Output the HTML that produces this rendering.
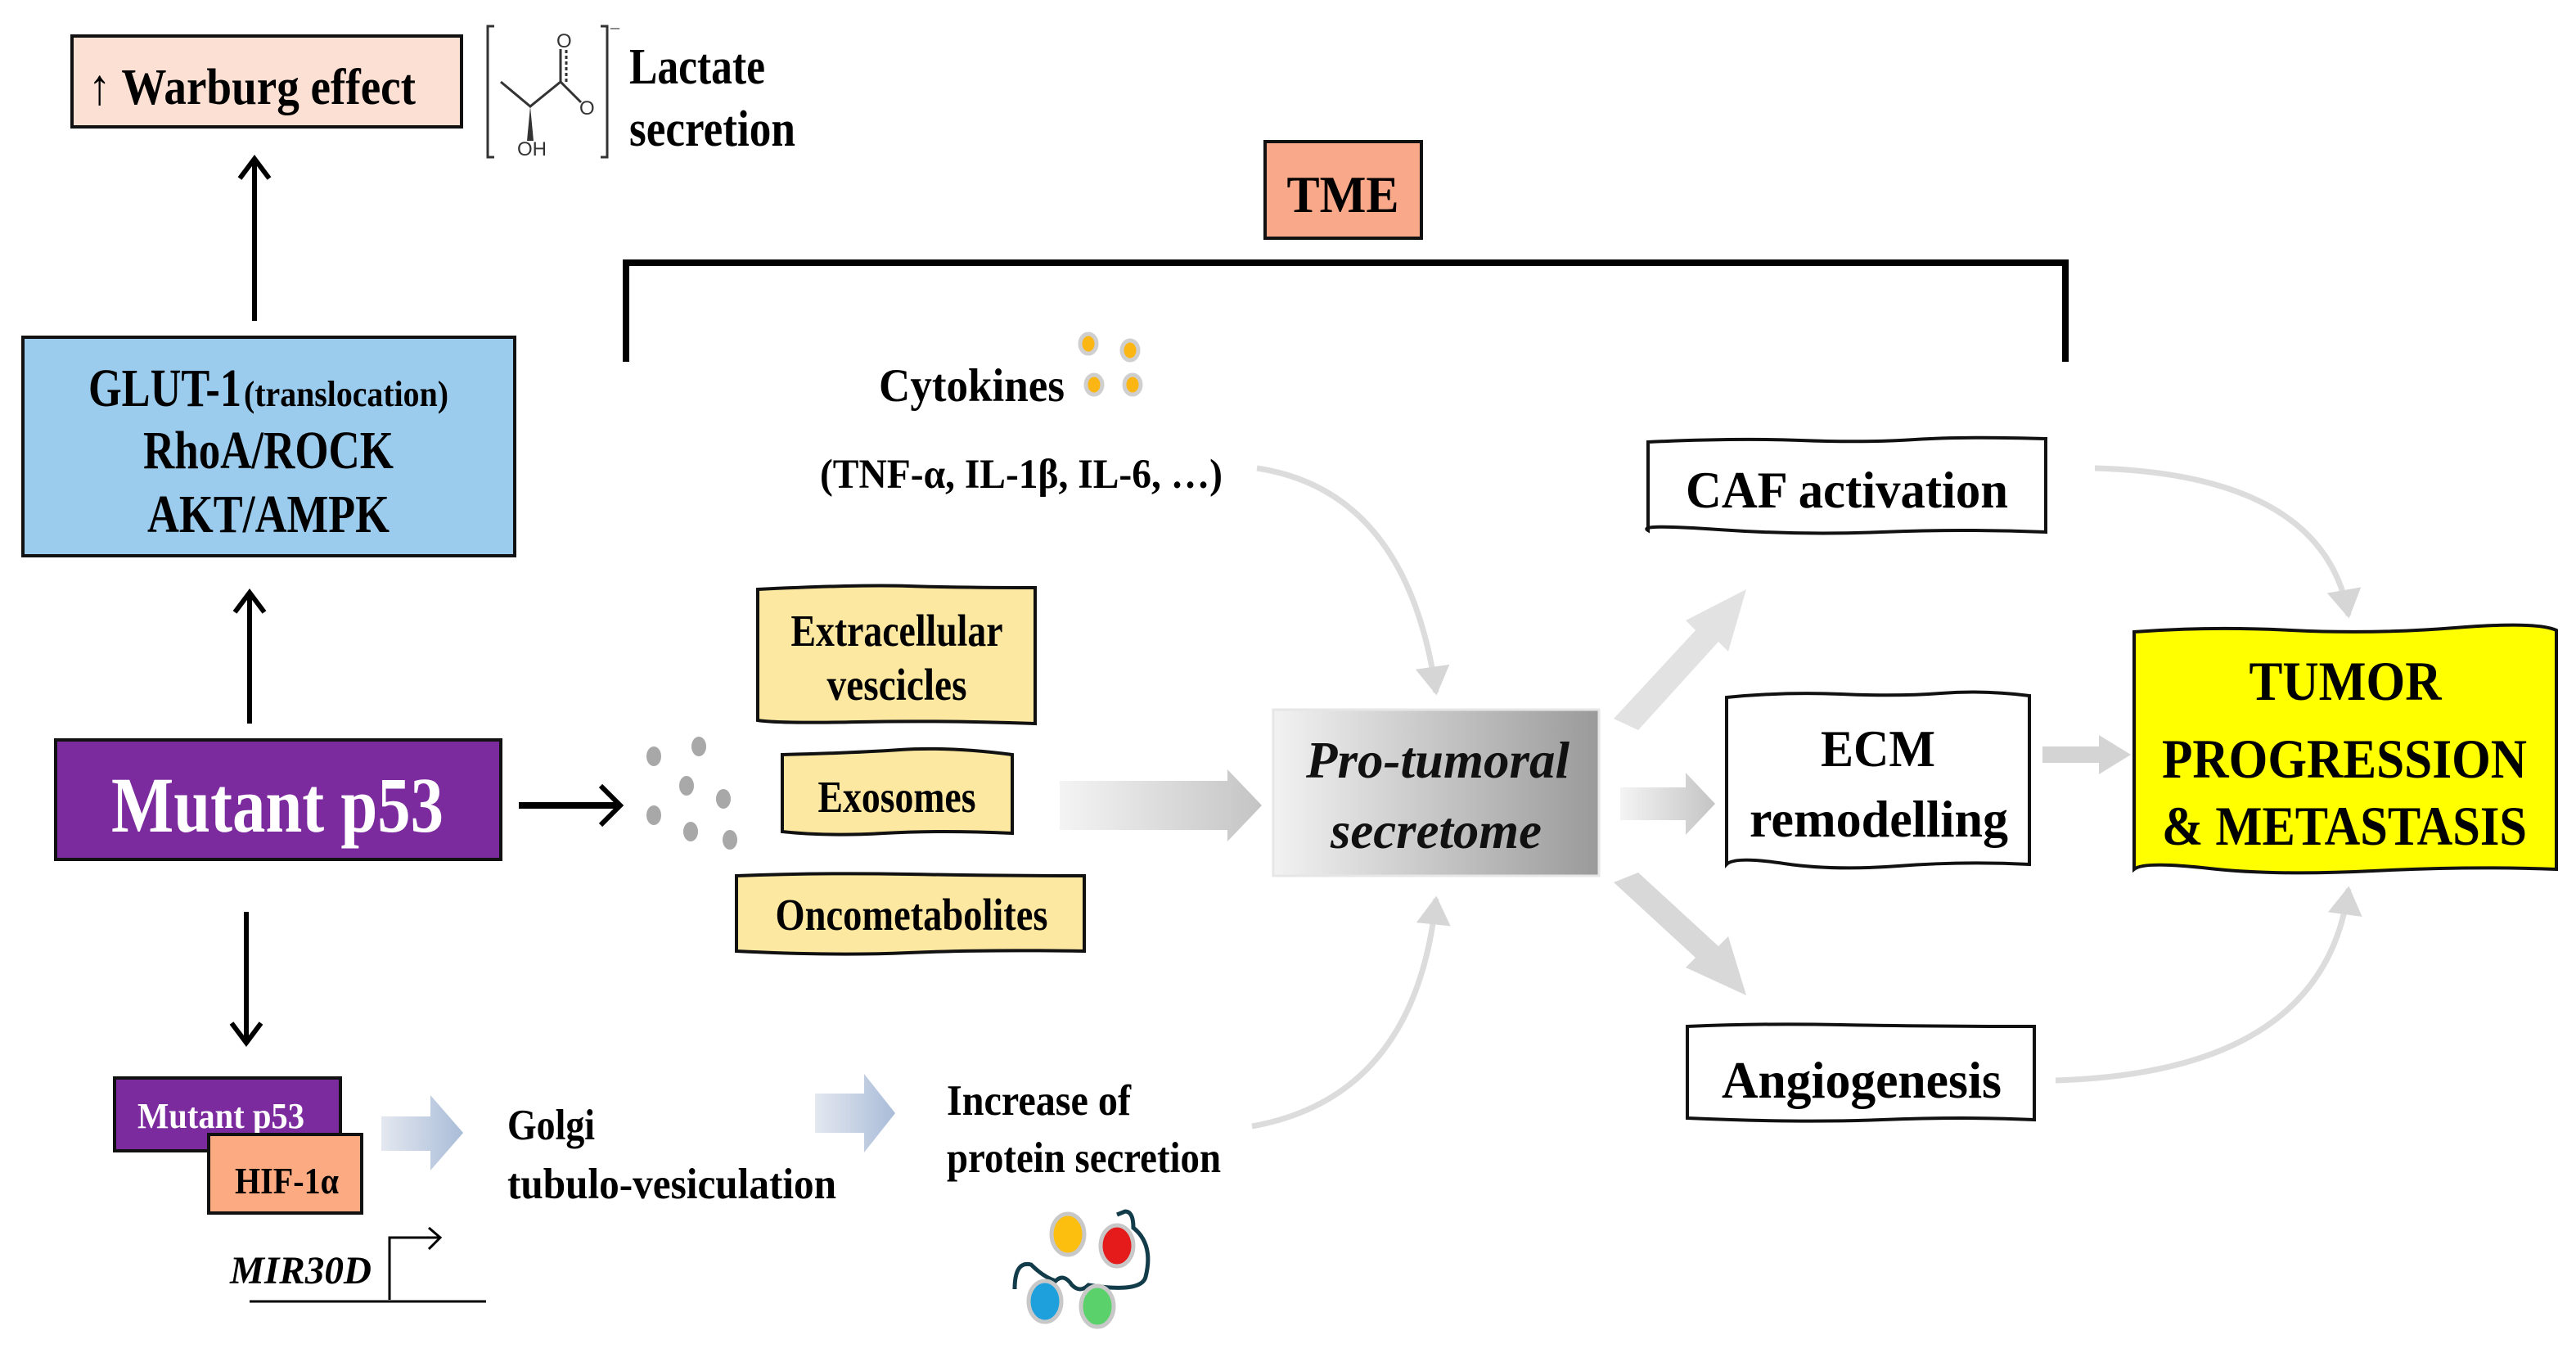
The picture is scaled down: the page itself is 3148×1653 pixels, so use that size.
<!DOCTYPE html>
<html><head><meta charset="utf-8"><style>html,body{margin:0;padding:0;background:#fff}svg{display:block}</style></head>
<body>
<svg width="3148" height="1653" viewBox="0 0 3148 1653" xmlns="http://www.w3.org/2000/svg" font-family="'Liberation Serif', serif" font-weight="bold">
<defs>
<linearGradient id="pg" x1="0" x2="1" y1="0" y2="0"><stop offset="0" stop-color="#f2f2f2"/><stop offset="1" stop-color="#9a9a9a"/></linearGradient>
<linearGradient id="ga" x1="0" x2="1"><stop offset="0" stop-color="#f4f4f4"/><stop offset="1" stop-color="#c4c4c4"/></linearGradient>
<linearGradient id="ba" x1="0" x2="1"><stop offset="0" stop-color="#e4e8f0"/><stop offset="1" stop-color="#a9bcd8"/></linearGradient>
<marker id="gh" markerWidth="6" markerHeight="6" refX="4.5" refY="3" orient="auto" markerUnits="strokeWidth"><path d="M0,0 L5,3 L0,6 Z" fill="#d6d6d6"/></marker>
</defs>

<rect x="88" y="44" width="476" height="111" fill="#fce0d4" stroke="#111" stroke-width="4"/>
<text x="108" y="127" font-size="62" textLength="400" lengthAdjust="spacingAndGlyphs">↑ Warburg effect</text>
<g stroke="#333" stroke-width="3" fill="none">
<path d="M604,32 h-8 v160 h8"/><path d="M734,32 h8 v160 h-8"/>
<path d="M612,100 L648,130 L685,100 L710,125"/>
<path d="M685,100 V60"/><path d="M692,100 V60" stroke-dasharray="4 3"/>
</g>
<path d="M648,130 L644,172 L652,172 Z" fill="#333"/>
<text x="680" y="58" font-size="24" font-weight="normal" font-family="'Liberation Sans',sans-serif" fill="#333">O</text>
<text x="708" y="140" font-size="24" font-weight="normal" font-family="'Liberation Sans',sans-serif" fill="#333">O</text>
<text x="632" y="190" font-size="24" font-weight="normal" font-family="'Liberation Sans',sans-serif" fill="#333">OH</text>
<text x="746" y="40" font-size="22" font-weight="normal" fill="#333">–</text>
<text x="769" y="102" font-size="62" textLength="166" lengthAdjust="spacingAndGlyphs">Lactate</text>
<text x="769" y="178" font-size="62" textLength="203" lengthAdjust="spacingAndGlyphs">secretion</text>

<g stroke="#000" stroke-width="6" fill="none">
<line x1="311" y1="392" x2="311" y2="196"/><path d="M293,218 L311,194 L329,218"/>
<line x1="305" y1="884" x2="305" y2="726"/><path d="M287,748 L305,724 L323,748"/>
<line x1="301" y1="1114" x2="301" y2="1272"/><path d="M283,1250 L301,1274 L319,1250"/>
<line x1="634" y1="984" x2="754" y2="984" stroke-width="8"/><path d="M734,960 L758,984 L734,1008" stroke-width="6"/>
</g>

<rect x="28" y="412" width="601" height="267" fill="#9bcbed" stroke="#111" stroke-width="4"/>
<text x="108" y="496" font-size="66" textLength="187" lengthAdjust="spacingAndGlyphs">GLUT-1</text>
<text x="298" y="496" font-size="44" textLength="250" lengthAdjust="spacingAndGlyphs">(translocation)</text>
<text x="328" y="572" font-size="66" text-anchor="middle" textLength="306" lengthAdjust="spacingAndGlyphs">RhoA/ROCK</text>
<text x="328" y="650" font-size="66" text-anchor="middle" textLength="296" lengthAdjust="spacingAndGlyphs">AKT/AMPK</text>

<rect x="68" y="904" width="544" height="146" fill="#7b2b9e" stroke="#111" stroke-width="4"/>
<text x="136" y="1016" font-size="96" fill="#fff" textLength="406" lengthAdjust="spacingAndGlyphs">Mutant p53</text>

<g fill="#a8a8a8">
<ellipse cx="799" cy="924" rx="9" ry="12"/><ellipse cx="854" cy="912" rx="9" ry="12"/><ellipse cx="839" cy="960" rx="9" ry="12"/><ellipse cx="884" cy="976" rx="9" ry="12"/><ellipse cx="799" cy="996" rx="9" ry="12"/><ellipse cx="844" cy="1016" rx="9" ry="12"/><ellipse cx="892" cy="1026" rx="9" ry="12"/>
</g>

<g fill="#fde8a2" stroke="#111" stroke-width="4">
<path d="M926,720 Q1050,714 1110,716 T1265,718 V884 Q1150,880 1050,882 T926,880 Z"/>
<path d="M956,922 Q1040,920 1100,916 T1237,922 V1018 Q1150,1014 1080,1018 T956,1016 Z"/>
<path d="M900,1070 Q1000,1066 1110,1068 T1325,1070 V1162 Q1200,1160 1110,1164 T900,1162 Z"/>
</g>
<text x="1096" y="789" font-size="55" text-anchor="middle" textLength="259" lengthAdjust="spacingAndGlyphs">Extracellular</text>
<text x="1096" y="855" font-size="55" text-anchor="middle" textLength="171" lengthAdjust="spacingAndGlyphs">vescicles</text>
<text x="1096" y="992" font-size="55" text-anchor="middle" textLength="193" lengthAdjust="spacingAndGlyphs">Exosomes</text>
<text x="1114" y="1136" font-size="55" text-anchor="middle" textLength="333" lengthAdjust="spacingAndGlyphs">Oncometabolites</text>

<path d="M1295,954 H1500 V940 L1542,984 L1500,1028 V1014 H1295 Z" fill="url(#ga)"/>

<rect x="1546" y="173" width="191" height="118" fill="#f9a98a" stroke="#111" stroke-width="4"/>
<text x="1641" y="259" font-size="64" text-anchor="middle" textLength="137" lengthAdjust="spacingAndGlyphs">TME</text>
<path d="M765,442 V321 H2524 V442" fill="none" stroke="#000" stroke-width="8"/>

<text x="1074" y="490" font-size="57" textLength="227" lengthAdjust="spacingAndGlyphs">Cytokines</text>
<g fill="#fbb614" stroke="#cfcfcf" stroke-width="5">
<ellipse cx="1330" cy="420" rx="10" ry="12"/><ellipse cx="1381" cy="428" rx="10" ry="12"/><ellipse cx="1337" cy="470" rx="10" ry="12"/><ellipse cx="1384" cy="470" rx="10" ry="12"/>
</g>
<text x="1002" y="596" font-size="51" textLength="492" lengthAdjust="spacingAndGlyphs">(TNF-α, IL-1β, IL-6, …)</text>

<g fill="none" stroke="#dcdcdc" stroke-width="7">
<path d="M1536,572 Q1720,600 1755,846" marker-end="url(#gh)"/>
<path d="M1530,1376 Q1730,1340 1755,1098" marker-end="url(#gh)"/>
<path d="M2560,572 Q2840,580 2870,752" marker-end="url(#gh)"/>
<path d="M2512,1320 Q2840,1310 2870,1086" marker-end="url(#gh)"/>
</g>

<rect x="1556" y="867" width="398" height="203" fill="url(#pg)" stroke="#e6e6e6" stroke-width="3"/>
<text x="1757" y="950" font-size="64" font-style="italic" text-anchor="middle" textLength="322" lengthAdjust="spacingAndGlyphs" fill="#111">Pro-tumoral</text>
<text x="1755" y="1036" font-size="64" font-style="italic" text-anchor="middle" textLength="258" lengthAdjust="spacingAndGlyphs" fill="#111">secretome</text>

<g fill="url(#ga)">
<path d="M1972,878 L2072,770 L2060,758 L2134,720 L2112,796 L2100,784 L2002,892 Z" fill="#e2e2e2"/>
<path d="M1980,962 H2060 V944 L2096,982 L2060,1020 V1002 H1980 Z"/>
<path d="M1972,1078 L2072,1170 L2060,1182 L2134,1216 L2112,1144 L2100,1156 L2002,1066 Z" fill="#d8d8d8"/>
<path d="M2496,912 H2565 V898 L2604,922 L2565,946 V932 H2496 Z" fill="#d4d4d4"/>
</g>

<g fill="#fff" stroke="#111" stroke-width="4">
<path d="M2014,540 Q2120,535 2200,538 T2340,537 T2500,536 V650 Q2400,646 2300,650 T2100,647 T2014,648 Z"/>
<path d="M2110,852 Q2180,845 2250,848 T2372,847 T2480,850 V1056 Q2400,1052 2320,1058 T2180,1055 T2110,1056 Z"/>
<path d="M2062,1254 Q2150,1250 2250,1252 T2486,1254 V1368 Q2400,1364 2300,1368 T2062,1366 Z"/>
</g>
<text x="2257" y="620" font-size="64" text-anchor="middle" textLength="394" lengthAdjust="spacingAndGlyphs">CAF activation</text>
<text x="2295" y="936" font-size="64" text-anchor="middle" textLength="140" lengthAdjust="spacingAndGlyphs">ECM</text>
<text x="2296" y="1022" font-size="64" text-anchor="middle" textLength="316" lengthAdjust="spacingAndGlyphs">remodelling</text>
<text x="2275" y="1341" font-size="64" text-anchor="middle" textLength="342" lengthAdjust="spacingAndGlyphs">Angiogenesis</text>

<path d="M2608,772 Q2700,765 2800,770 T3000,767 T3124,770 V1062 Q3020,1058 2900,1064 T2700,1061 T2608,1062 Z" fill="#ffff00" stroke="#111" stroke-width="4"/>
<text x="2866" y="855" font-size="68" text-anchor="middle" textLength="235" lengthAdjust="spacingAndGlyphs">TUMOR</text>
<text x="2865" y="950" font-size="68" text-anchor="middle" textLength="446" lengthAdjust="spacingAndGlyphs">PROGRESSION</text>
<text x="2865" y="1032" font-size="68" text-anchor="middle" textLength="446" lengthAdjust="spacingAndGlyphs">&amp; METASTASIS</text>

<rect x="140" y="1317" width="276" height="89" fill="#7b2b9e" stroke="#111" stroke-width="4"/>
<text x="168" y="1378" font-size="44" fill="#fff" textLength="204" lengthAdjust="spacingAndGlyphs">Mutant p53</text>
<rect x="255" y="1386" width="187" height="96" fill="#fbaa82" stroke="#111" stroke-width="4"/>
<text x="287" y="1458" font-size="46" textLength="127" lengthAdjust="spacingAndGlyphs">HIF-1α</text>
<text x="281" y="1568" font-size="48" font-style="italic" textLength="173" lengthAdjust="spacingAndGlyphs">MIR30D</text>
<g stroke="#000" stroke-width="3" fill="none">
<line x1="305" y1="1590" x2="594" y2="1590"/>
<path d="M476,1588 V1512 H536"/><path d="M524,1500 L538,1512 L524,1526"/>
</g>
<path d="M466,1364 H526 V1338 L566,1384 L526,1430 V1406 H466 Z" fill="url(#ba)"/>
<path d="M996,1336 H1056 V1312 L1094,1360 L1056,1408 V1384 H996 Z" fill="url(#ba)"/>
<text x="620" y="1392" font-size="53" textLength="107" lengthAdjust="spacingAndGlyphs">Golgi</text>
<text x="620" y="1464" font-size="53" textLength="402" lengthAdjust="spacingAndGlyphs">tubulo-vesiculation</text>
<text x="1157" y="1362" font-size="53" textLength="225" lengthAdjust="spacingAndGlyphs">Increase of</text>
<text x="1157" y="1432" font-size="53" textLength="335" lengthAdjust="spacingAndGlyphs">protein secretion</text>

<path d="M1240,1575 Q1240,1540 1260,1545 Q1275,1560 1290,1565 Q1300,1555 1310,1570 Q1320,1580 1330,1570 Q1395,1580 1400,1560 Q1410,1520 1385,1500 Q1385,1480 1375,1480 L1365,1484" fill="none" stroke="#123c4a" stroke-width="5"/>
<g stroke="#c8c8c8" stroke-width="5">
<ellipse cx="1305" cy="1508" rx="20" ry="25" fill="#fcbf10"/>
<ellipse cx="1365" cy="1522" rx="20" ry="25" fill="#e51a1a"/>
<ellipse cx="1277" cy="1590" rx="20" ry="25" fill="#1ea0dc"/>
<ellipse cx="1341" cy="1596" rx="20" ry="25" fill="#5ad16a"/>
</g>
</svg>
</body></html>
